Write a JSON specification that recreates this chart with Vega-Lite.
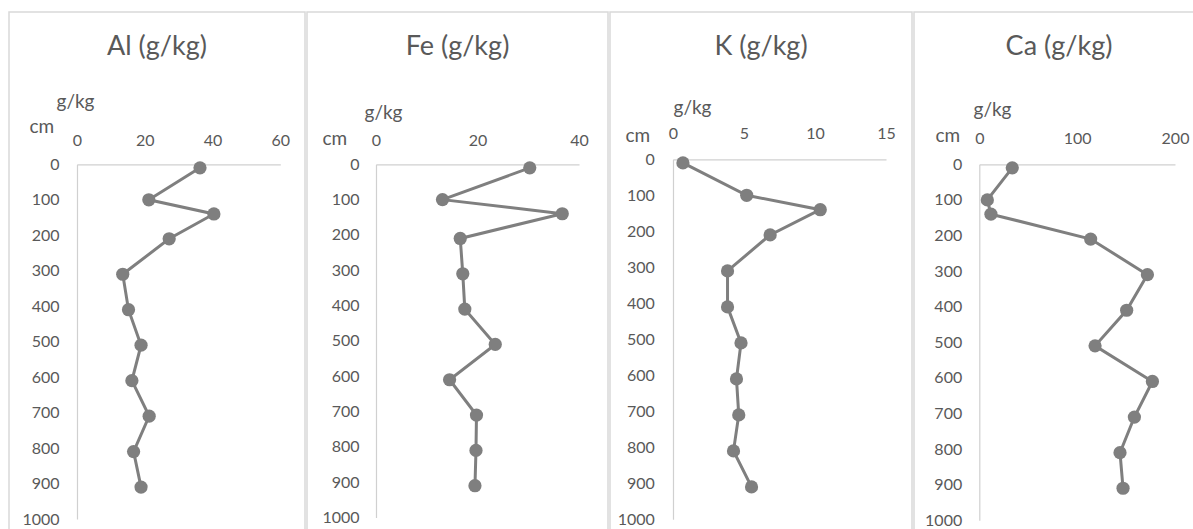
{
  "$schema": "https://vega.github.io/schema/vega-lite/v6.json",
  "padding": {"left": 8, "top": 11, "right": 0, "bottom": 0},
  "autosize": {"type": "pad"},
  "background": "white",
  "bounds": "flush",
  "spacing": 2,
  "config": {
    "view": {"stroke": "#d9d9d9", "strokeWidth": 1.5},
    "axis": {
      "labelFont": "Lato", "labelFontSize": 16, "labelColor": "#595959",
      "titleFont": "Lato", "titleFontSize": 19, "titleColor": "#595959", "titleFontWeight": "normal",
      "domainColor": "#d0d0d0", "domainWidth": 1.2, "ticks": false, "tickSize": 0, "grid": false,
      "labelFlush": false, "labelOverlap": false, "titleAngle": 0, "titleAlign": "left", "titleBaseline": "alphabetic", "format": "d"
    },
    "title": {"font": "Lato", "fontSize": 27, "fontWeight": "normal", "color": "#595959", "anchor": "middle", "frame": "group", "baseline": "alphabetic", "offset": -49}
  },
  "data": {"values": [
    {"element": "Al", "depth": 10, "value": 36.3},
    {"element": "Al", "depth": 100, "value": 21.2},
    {"element": "Al", "depth": 140, "value": 40.4},
    {"element": "Al", "depth": 210, "value": 27.2},
    {"element": "Al", "depth": 310, "value": 13.5},
    {"element": "Al", "depth": 410, "value": 15.2},
    {"element": "Al", "depth": 510, "value": 18.9},
    {"element": "Al", "depth": 610, "value": 16.2},
    {"element": "Al", "depth": 710, "value": 21.3},
    {"element": "Al", "depth": 810, "value": 16.7},
    {"element": "Al", "depth": 910, "value": 18.9},
    {"element": "Fe", "depth": 10, "value": 30.3},
    {"element": "Fe", "depth": 100, "value": 13.1},
    {"element": "Fe", "depth": 140, "value": 36.7},
    {"element": "Fe", "depth": 210, "value": 16.6},
    {"element": "Fe", "depth": 310, "value": 17.1},
    {"element": "Fe", "depth": 410, "value": 17.5},
    {"element": "Fe", "depth": 510, "value": 23.5},
    {"element": "Fe", "depth": 610, "value": 14.5},
    {"element": "Fe", "depth": 710, "value": 19.8},
    {"element": "Fe", "depth": 810, "value": 19.7},
    {"element": "Fe", "depth": 910, "value": 19.5},
    {"element": "K", "depth": 10, "value": 0.7},
    {"element": "K", "depth": 100, "value": 5.19},
    {"element": "K", "depth": 140, "value": 10.37},
    {"element": "K", "depth": 210, "value": 6.84},
    {"element": "K", "depth": 310, "value": 3.84},
    {"element": "K", "depth": 410, "value": 3.84},
    {"element": "K", "depth": 510, "value": 4.79},
    {"element": "K", "depth": 610, "value": 4.47},
    {"element": "K", "depth": 710, "value": 4.63},
    {"element": "K", "depth": 810, "value": 4.26},
    {"element": "K", "depth": 910, "value": 5.53},
    {"element": "Ca", "depth": 10, "value": 33.7},
    {"element": "Ca", "depth": 100, "value": 8.2},
    {"element": "Ca", "depth": 140, "value": 11.9},
    {"element": "Ca", "depth": 210, "value": 113.8},
    {"element": "Ca", "depth": 310, "value": 171.8},
    {"element": "Ca", "depth": 410, "value": 150.6},
    {"element": "Ca", "depth": 510, "value": 118.3},
    {"element": "Ca", "depth": 610, "value": 176.9},
    {"element": "Ca", "depth": 710, "value": 158.5},
    {"element": "Ca", "depth": 810, "value": 143.8},
    {"element": "Ca", "depth": 910, "value": 146.9}
  ]},
  "hconcat": [
    {
      "width": 296, "height": 530,
      "title": {"text": "Al (g/kg)"},
      "transform": [{"filter": "datum.element === 'Al'"}],
      "encoding": {
        "x": {"field": "value", "type": "quantitative",
          "scale": {"domain": [0, 60], "range": [68, 271.3], "nice": false},
          "axis": {"orient": "top", "offset": -152.3, "values": [0, 20, 40, 60], "labelPadding": 16, "title": "g/kg", "titleX": 47, "titleY": -57}},
        "y": {"field": "depth", "type": "quantitative",
          "scale": {"domain": [0, 1000], "range": [152.3, 507], "nice": false},
          "axis": {"orient": "left", "offset": -68, "values": [0, 100, 200, 300, 400, 500, 600, 700, 800, 900, 1000], "labelPadding": 18, "title": "cm", "titleX": -48, "titleY": 120.5}},
        "order": {"field": "depth", "type": "quantitative"}
      },
      "layer": [
        {"mark": {"type": "line", "color": "#7f7f7f", "strokeWidth": 3}},
        {"mark": {"type": "point", "filled": true, "color": "#7f7f7f", "opacity": 1, "size": 175}}
      ]
    },
    {
      "width": 301, "height": 530,
      "title": {"text": "Fe (g/kg)"},
      "transform": [{"filter": "datum.element === 'Fe'"}],
      "encoding": {
        "x": {"field": "value", "type": "quantitative",
          "scale": {"domain": [0, 40], "range": [69, 272], "nice": false},
          "axis": {"orient": "top", "offset": -152.3, "values": [0, 20, 40], "labelPadding": 16, "title": "g/kg", "titleX": 57, "titleY": -46}},
        "y": {"field": "depth", "type": "quantitative",
          "scale": {"domain": [0, 1000], "range": [152.3, 505.5], "nice": false},
          "axis": {"orient": "left", "offset": -69, "values": [0, 100, 200, 300, 400, 500, 600, 700, 800, 900, 1000], "labelPadding": 17, "title": "cm", "titleX": -54, "titleY": 132}},
        "order": {"field": "depth", "type": "quantitative"}
      },
      "layer": [
        {"mark": {"type": "line", "color": "#7f7f7f", "strokeWidth": 3}},
        {"mark": {"type": "point", "filled": true, "color": "#7f7f7f", "opacity": 1, "size": 175}}
      ]
    },
    {
      "width": 302, "height": 530,
      "title": {"text": "K (g/kg)"},
      "transform": [{"filter": "datum.element === 'K'"}],
      "encoding": {
        "x": {"field": "value", "type": "quantitative",
          "scale": {"domain": [0, 15], "range": [63, 276], "nice": false},
          "axis": {"orient": "top", "offset": -147.3, "values": [0, 5, 10, 15], "labelPadding": 18, "title": "g/kg", "titleX": 63, "titleY": -46}},
        "y": {"field": "depth", "type": "quantitative",
          "scale": {"domain": [0, 1000], "range": [147.3, 507.3], "nice": false},
          "axis": {"orient": "left", "offset": -63, "values": [0, 100, 200, 300, 400, 500, 600, 700, 800, 900, 1000], "labelPadding": 18.7, "title": "cm", "titleX": -48, "titleY": 129}},
        "order": {"field": "depth", "type": "quantitative"}
      },
      "layer": [
        {"mark": {"type": "line", "color": "#7f7f7f", "strokeWidth": 3}},
        {"mark": {"type": "point", "filled": true, "color": "#7f7f7f", "opacity": 1, "size": 175}}
      ]
    },
    {
      "width": 290, "height": 530,
      "title": {"text": "Ca (g/kg)"},
      "transform": [{"filter": "datum.element === 'Ca'"}],
      "encoding": {
        "x": {"field": "value", "type": "quantitative",
          "scale": {"domain": [0, 200], "range": [65.3, 261], "nice": false},
          "axis": {"orient": "top", "offset": -152.3, "values": [0, 100, 200], "labelPadding": 18, "title": "g/kg", "titleX": 59, "titleY": -49}},
        "y": {"field": "depth", "type": "quantitative",
          "scale": {"domain": [0, 1000], "range": [152.3, 508.3], "nice": false},
          "axis": {"orient": "left", "offset": -65.3, "values": [0, 100, 200, 300, 400, 500, 600, 700, 800, 900, 1000], "labelPadding": 17.6, "title": "cm", "titleX": -44.3, "titleY": 129}},
        "order": {"field": "depth", "type": "quantitative"}
      },
      "layer": [
        {"mark": {"type": "line", "color": "#7f7f7f", "strokeWidth": 3}},
        {"mark": {"type": "point", "filled": true, "color": "#7f7f7f", "opacity": 1, "size": 175}}
      ]
    }
  ]
}
